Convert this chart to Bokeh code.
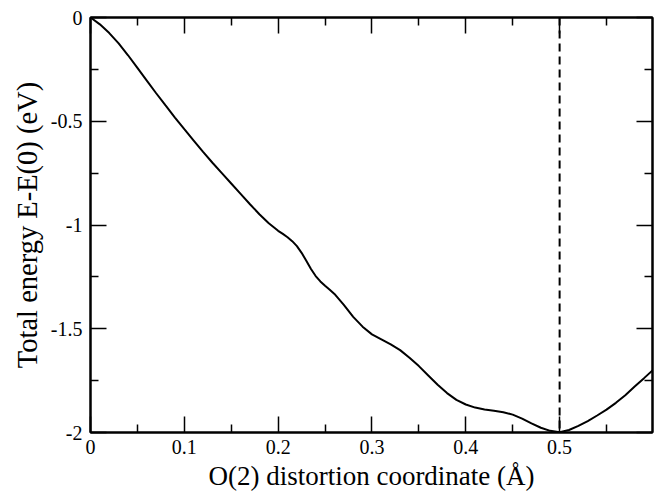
from bokeh.plotting import figure
from bokeh.models import LinearAxis, FixedTicker, Span, CustomJSTickFormatter, Range1d
from bokeh.embed import file_html
from bokeh.resources import INLINE

# Data
x_coord = [0, 0.01, 0.02, 0.03, 0.04, 0.05, 0.06, 0.07, 0.08, 0.09,
           0.10, 0.11, 0.12, 0.13, 0.14, 0.15, 0.16, 0.17, 0.18, 0.19,
           0.20, 0.205, 0.21, 0.215, 0.22, 0.225, 0.23, 0.235, 0.24, 0.245,
           0.25, 0.255, 0.26, 0.27, 0.28, 0.29,
           0.30, 0.31, 0.32, 0.33, 0.34, 0.35, 0.36, 0.37, 0.38, 0.39,
           0.40, 0.41, 0.42, 0.43, 0.44, 0.45, 0.46, 0.47, 0.48, 0.49,
           0.50, 0.51, 0.52, 0.53, 0.54, 0.55, 0.56, 0.57, 0.58, 0.59, 0.599]
energy = [0, -0.033, -0.075, -0.125, -0.182, -0.243, -0.304, -0.365, -0.424, -0.482,
          -0.538, -0.593, -0.648, -0.700, -0.750, -0.800, -0.850, -0.900, -0.948, -0.992,
          -1.028, -1.043, -1.059, -1.078, -1.102, -1.134, -1.172, -1.212, -1.246, -1.272,
          -1.293, -1.312, -1.332, -1.385, -1.443, -1.490,
          -1.527, -1.551, -1.575, -1.603, -1.640, -1.680, -1.725, -1.770, -1.810, -1.843,
          -1.865, -1.880, -1.889, -1.895, -1.902, -1.914, -1.933, -1.956, -1.977, -1.992,
          -1.999, -1.988, -1.968, -1.945, -1.918, -1.890, -1.857, -1.820, -1.778, -1.738, -1.701]
minimum_x = 0.5
x_ticks = [0, 0.1, 0.2, 0.3, 0.4, 0.5]
x_minor = [0.05, 0.15, 0.25, 0.35, 0.45, 0.55]
y_ticks = [0, -0.5, -1, -1.5, -2]
y_minor = [-0.25, -0.75, -1.25, -1.75]

FONT = "Liberation Serif"

p = figure(width=657, height=493, output_backend="svg", toolbar_location=None,
           x_range=Range1d(0, 0.599), y_range=Range1d(-2, 0),
           min_border_left=90, min_border_right=5, min_border_top=17, min_border_bottom=61)
p.xgrid.visible = False
p.ygrid.visible = False
p.outline_line_color = "black"
p.outline_line_width = 2
p.background_fill_color = "white"
p.border_fill_color = "white"

fmt = CustomJSTickFormatter(code="return String(tick);")
empty = CustomJSTickFormatter(code="return '';")

def style(ax, labels=True):
    ax.axis_line_color = "black"
    ax.axis_line_width = 2
    ax.major_tick_in = 16
    ax.major_tick_out = 0
    ax.minor_tick_in = 8
    ax.minor_tick_out = 0
    ax.major_tick_line_width = 1.5
    ax.minor_tick_line_width = 1.5
    ax.major_label_text_font = FONT
    ax.major_label_text_font_size = "20px"
    ax.major_label_text_color = "black"
    ax.axis_label_text_font = FONT
    ax.axis_label_text_font_size = "27px"
    ax.axis_label_text_font_style = "normal"
    ax.axis_label_text_color = "black"
    ax.formatter = fmt if labels else empty

p.xaxis.ticker = FixedTicker(ticks=x_ticks, minor_ticks=x_minor)
p.yaxis.ticker = FixedTicker(ticks=y_ticks, minor_ticks=y_minor)
for ax in p.xaxis:
    style(ax)
    ax.axis_label = "O(2) distortion coordinate (Å)"
    ax.major_label_standoff = 7
    ax.axis_label_standoff = 4
for ax in p.yaxis:
    style(ax)
    ax.axis_label = "Total energy E-E(0) (eV)"
    ax.axis_label_text_font_size = "28.5px"
    ax.major_label_standoff = 8
    ax.axis_label_standoff = 5

top = LinearAxis(ticker=FixedTicker(ticks=x_ticks, minor_ticks=x_minor))
style(top, labels=False)
top.major_label_text_font_size = "0px"
top.major_label_standoff = 0
p.add_layout(top, "above")
right = LinearAxis(ticker=FixedTicker(ticks=y_ticks, minor_ticks=y_minor))
style(right, labels=False)
right.major_label_text_font_size = "0px"
right.major_label_standoff = 0
p.add_layout(right, "right")

p.line(x_coord, energy, line_color="black", line_width=2)
p.add_layout(Span(location=minimum_x, dimension="height", line_color="black",
                  line_width=2, line_dash="8 5"))

open("out.html", "w").write(file_html(p, INLINE))
